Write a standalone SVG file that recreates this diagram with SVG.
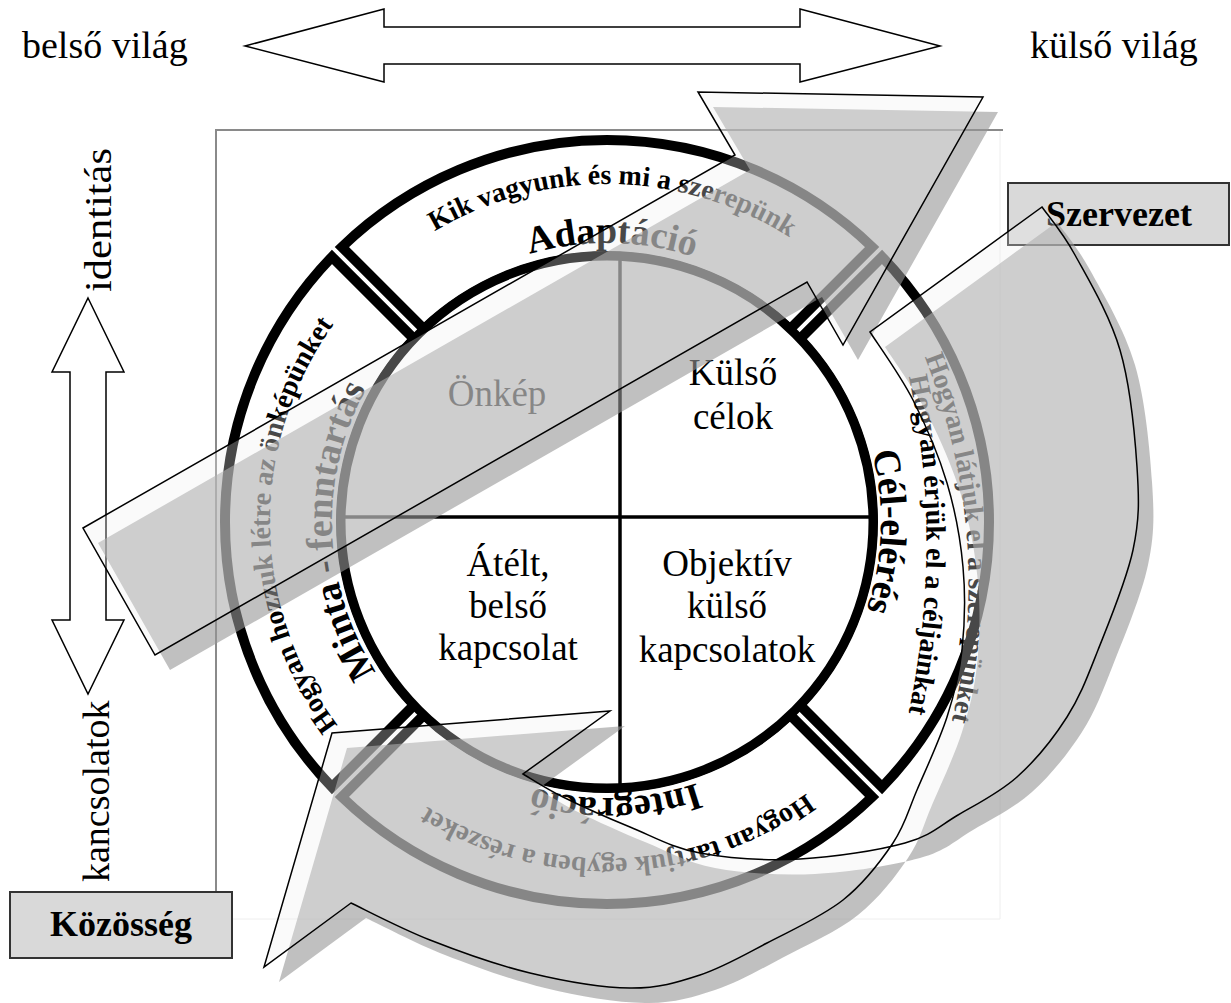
<svg xmlns="http://www.w3.org/2000/svg" width="1231" height="1003" viewBox="0 0 1231 1003">
<style>
 text { font-family: "Liberation Serif", "Times New Roman", serif; fill:#000; }
 .lbl { font-size:38px; }
 .quad { font-size:37px; text-anchor:middle; }
 .title { font-size:38px; font-weight:bold; text-anchor:middle; }
 .sub { font-size:28px; font-weight:bold; text-anchor:middle; }
 .box { fill:#d9d9d9; stroke:#333; stroke-width:2; }
 .boxt { font-size:36px; font-weight:bold; text-anchor:middle; }
 .dbl { fill:#fff; stroke:#000; stroke-width:1.5; stroke-linejoin:miter; }
 .sector { fill:#fff; stroke:#000; stroke-width:10; stroke-linejoin:miter; }
 .cross { stroke:#000; stroke-width:3.5; fill:none; }
 .frame { stroke:#8a8a8a; stroke-width:2; fill:none; }
 .frame2 { stroke:#eeeeee; stroke-width:1; fill:none; }
 .shadow { fill:#969696; fill-opacity:0.6; }
 .outline { fill:#f0f0f0; fill-opacity:0.3; stroke:#000; stroke-width:1.5; stroke-linejoin:miter; }
</style>
<defs>
 <path id="tTopOut" d="M 269.05 516.1 A 338 338 0 0 1 944.95 527.9"/>
 <path id="tTopIn" d="M 328.04 517.13 A 279 279 0 0 1 885.96 526.87"/>
 <path id="tRightIn" d="M 616.6 247.17 A 275 275 0 0 1 597.4 796.83"/>
 <path id="tRightOut1" d="M 905 360 Q 948 540 905 730"/>
 <path id="tRightOut2" d="M 922 350 Q 998 540 950 728"/>
 <path id="tBotIn" d="M 882.88 513.81 A 276 276 0 0 1 331.12 530.19"/>
 <path id="tBotOut" d="M 944.79 510.2 A 338 338 0 0 1 269.21 533.8"/>
 <path id="tLeftIn" d="M 616.63 797.83 A 276 276 0 0 1 597.37 246.17"/>
 <path id="tLeftOut" d="M 610.54 859.98 A 338 338 0 0 1 603.46 184.02"/>
 <path id="aDiag" d="M 83 528 L 735 155 L 698 92 L 983 97 L 843 345 L 807 282 L 155 655 Z"/>
 <path id="aCurve" d="M 870 332 C 877.2 343.3 900.2 374.8 913 400 C 925.8 425.2 938.7 455.2 947 483 C 955.3 510.8 960.5 539.2 963 567 C 965.5 594.8 964.7 625 962 650 C 959.3 675 954.5 693.7 947 717 C 939.5 740.3 926 769 917 790 C 908 811 905.3 824.7 893 843 C 880.7 861.3 864 883.3 843 900 C 822 916.7 790.8 930.5 767 943 C 743.2 955.5 722.8 967.5 700 975 C 677.2 982.5 658.3 988.3 630 988 C 601.7 987.7 563.3 981 530 973 C 496.7 965 459.8 951.7 430 940 C 400.2 928.3 364.2 909.2 351 903 L 264 967 L 332 733 L 610 711 L 523 774 C 529.7 777.8 545.2 788.2 563 797 C 580.8 805.8 607.2 817.7 630 827 C 652.8 836.3 671.7 847.7 700 853 C 728.3 858.3 765.8 860.7 800 859 C 834.2 857.3 878.7 850.3 905 843 C 931.3 835.7 939.3 826 958 815 C 976.7 804 998.8 793.3 1017 777 C 1035.2 760.7 1053.5 738.2 1067 717 C 1080.5 695.8 1087 677.8 1098 650 C 1109 622.2 1126.5 580.5 1133 550 C 1139.5 519.5 1139.2 500.3 1137 467 C 1134.8 433.7 1130.3 385.3 1120 350 C 1109.7 314.7 1088 278.8 1075 255 C 1062 231.2 1047.5 215 1042 207 Z"/>
</defs>
<rect width="1231" height="1003" fill="#fff"/>
<g id="frame">
 <line class="frame2" x1="1000" y1="130" x2="1000" y2="919"/>
 <line class="frame2" x1="216" y1="919" x2="1000" y2="919"/>
 <polyline class="frame" points="216,892 216,130 1003,130"/>
</g>
<g id="world-axis">
 <polygon class="dbl" points="245,46 384,9 384,27 800,27 800,9 940,46 800,82 800,64 384,64 384,82"/>
 <text class="lbl" x="22" y="58">belső világ</text>
 <text class="lbl" x="1030" y="58">külső világ</text>
</g>
<g id="identity-axis">
 <polygon class="dbl" points="88,298 124,372 106,372 106,620 124,620 88,694 52,620 70,620 70,372 52,372"/>
 <text class="lbl" transform="translate(111,292) rotate(-90)" textLength="144" lengthAdjust="spacingAndGlyphs">identitás</text>
 <text class="lbl" transform="translate(109,882) rotate(-90)">kancsolatok</text>
</g>
<g id="node-kozosseg">
 <rect class="box" x="10" y="892" width="222" height="66"/>
 <text class="boxt" x="121" y="936">Közösség</text>
</g>
<g id="node-szervezet">
 <rect class="box" x="1008" y="183" width="221" height="62"/>
 <text class="boxt" x="1119" y="226">Szervezet</text>
</g>
<g id="node-adaptacio">
 <path class="sector" d="M 341.88 246.98 A 382 382 0 0 1 872.12 246.98 L 790.08 329.02 A 266 266 0 0 0 423.92 329.02 Z"/>
 <text class="sub"><textPath href="#tTopOut" startOffset="50%">Kik vagyunk és mi a szerepünk</textPath></text>
 <text class="title"><textPath href="#tTopIn" startOffset="50%">Adaptáció</textPath></text>
</g>
<g id="node-celeleres">
 <path class="sector" d="M 882.02 256.88 A 382 382 0 0 1 882.02 787.12 L 799.98 705.08 A 266 266 0 0 0 799.98 338.92 Z"/>
 <text class="sub"><textPath href="#tRightOut2" startOffset="50%">Hogyan látjuk el a szerepünket</textPath></text>
 <text class="sub"><textPath href="#tRightOut1" startOffset="50%">Hogyan érjük el a céljainkat</textPath></text>
 <text class="title"><textPath href="#tRightIn" startOffset="50%">Cél-elérés</textPath></text>
</g>
<g id="node-integracio">
 <path class="sector" d="M 872.12 797.02 A 382 382 0 0 1 341.88 797.02 L 423.92 714.98 A 266 266 0 0 0 790.08 714.98 Z"/>
 <text class="sub"><textPath href="#tBotOut" startOffset="50%">Hogyan tartjuk egyben a részeket</textPath></text>
 <text class="title"><textPath href="#tBotIn" startOffset="50%">Integráció</textPath></text>
</g>
<g id="node-minta">
 <path class="sector" d="M 331.98 787.12 A 382 382 0 0 1 331.98 256.88 L 414.02 338.92 A 266 266 0 0 0 414.02 705.08 Z"/>
 <text class="sub"><textPath href="#tLeftOut" startOffset="50%">Hogyan hozzuk létre az önképünket</textPath></text>
 <text class="title"><textPath href="#tLeftIn" startOffset="50%">Minta - fenntartás</textPath></text>
</g>
<g id="node-core">
 <circle cx="607" cy="522" r="266" fill="#fff" stroke="#000" stroke-width="9"/>
 <line class="cross" x1="620" y1="256" x2="620" y2="788"/>
 <line class="cross" x1="341" y1="517" x2="873" y2="517"/>
</g>
<g id="node-onkep"><text class="quad" x="497" y="406">Önkép</text></g>
<g id="node-kulso-celok">
 <text class="quad" x="733" y="385">Külső</text>
 <text class="quad" x="733" y="429">célok</text>
</g>
<g id="node-atelt">
 <text class="quad" x="508" y="576">Átélt,</text>
 <text class="quad" x="508" y="618">belső</text>
 <text class="quad" x="508" y="660">kapcsolat</text>
</g>
<g id="node-objektiv">
 <text class="quad" x="727" y="576">Objektív</text>
 <text class="quad" x="727" y="618">külső</text>
 <text class="quad" x="727" y="662">kapcsolatok</text>
</g>
<g id="connectors">
 <use href="#aDiag" class="shadow" transform="translate(15,15)"/>
 <use href="#aDiag" class="outline"/>
 <use href="#aCurve" class="shadow" transform="translate(15,15)"/>
 <use href="#aCurve" class="outline"/>
</g>
</svg>
